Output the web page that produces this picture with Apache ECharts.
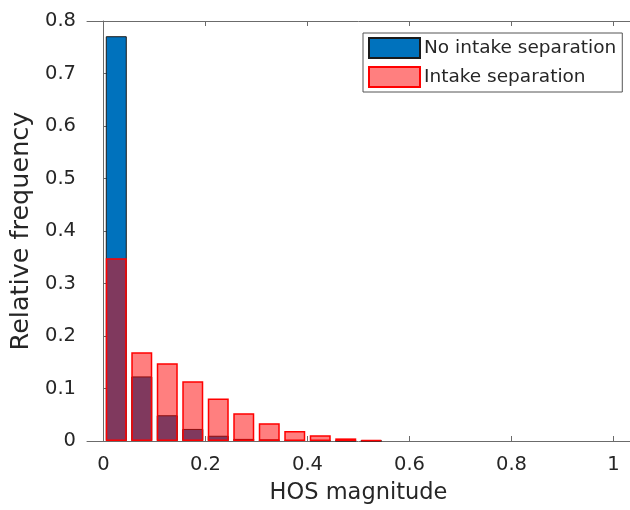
<!DOCTYPE html>
<html>
<head>
<meta charset="utf-8">
<script src="https://cdn.jsdelivr.net/npm/echarts@6/dist/echarts.min.js"></script>
<style>
  html, body { margin: 0; padding: 0; background: #fff; }
  #main { width: 630px; height: 510px; }
</style>
</head>
<body>
<div id="main"></div>
<script>
// bin centres (bin width 0.05)
var binCenters = [0.025, 0.075, 0.125, 0.175, 0.225, 0.275, 0.325, 0.375, 0.425, 0.475, 0.525];
// relative frequency, no intake separation
var noSeparation = [0.771, 0.123, 0.049, 0.023, 0.010, 0.004, 0.003, 0.002, 0.001, 0.0005, 0.0003];
// relative frequency, intake separation
var withSeparation = [0.348, 0.169, 0.148, 0.114, 0.081, 0.053, 0.034, 0.019, 0.011, 0.005, 0.002];
var xTicks = [0, 0.2, 0.4, 0.6, 0.8, 1];

var font = "'DejaVu Sans', 'Liberation Sans', Arial, sans-serif";
var axisColor = '#6b6b6b';
var textColor = '#262626';

function pairs(xs, ys) {
  return xs.map(function (x, i) { return [x, ys[i]]; });
}

var chart = echarts.init(document.getElementById('main'));
var option = {
  animation: false,
  textStyle: { fontFamily: font },
  grid: { left: 87, right: -3, top: 21, bottom: 66 },
  legend: {
    orient: 'vertical',
    left: 363,
    top: 33,
    padding: [4, 6, 4, 5],
    itemGap: 7,
    itemWidth: 51,
    itemHeight: 20,
    icon: 'rect',
    borderColor: '#555',
    borderWidth: 1,
    backgroundColor: '#fff',
    textStyle: { fontSize: 18.5, color: textColor, fontFamily: font, padding: [0, 0, 0, -1] },
    data: ['No intake separation', 'Intake separation']
  },
  xAxis: [{
    type: 'value',
    min: -0.0324,
    max: 1.0324,
    name: 'HOS magnitude',
    nameLocation: 'middle',
    nameGap: 41,
    nameTextStyle: { fontSize: 22.5, color: textColor, fontFamily: font },
    axisLine: { show: true, onZero: false, lineStyle: { color: axisColor, width: 1 } },
    axisTick: { show: true, inside: true, length: 5, customValues: xTicks, lineStyle: { color: axisColor } },
    axisLabel: { fontSize: 19.5, color: textColor, margin: 14, customValues: xTicks, fontFamily: font },
    splitLine: { show: false }
  }, {
    type: 'value',
    position: 'top',
    min: -0.0324,
    max: 1.0324,
    axisLine: { show: true, onZero: false, lineStyle: { color: axisColor, width: 1 } },
    axisTick: { show: true, inside: true, length: 5, customValues: xTicks, lineStyle: { color: axisColor } },
    axisLabel: { show: false },
    splitLine: { show: false }
  }],
  yAxis: {
    type: 'value',
    min: 0,
    max: 0.8,
    interval: 0.1,
    name: 'Relative frequency',
    nameLocation: 'middle',
    nameGap: 48,
    nameTextStyle: { fontSize: 25.5, color: textColor, fontFamily: font },
    axisLine: { show: true, lineStyle: { color: axisColor, width: 1 } },
    axisTick: { show: true, inside: true, length: 5, lineStyle: { color: axisColor } },
    axisLabel: { fontSize: 19.5, color: textColor, margin: 11, fontFamily: font },
    splitLine: { show: false }
  },
  series: [{
    name: 'No intake separation',
    type: 'bar',
    barWidth: 21,
    barGap: '-100%',
    itemStyle: { color: '#0072BD', borderColor: '#1a1a1a', borderWidth: 1 },
    data: pairs(binCenters, noSeparation)
  }, {
    name: 'Intake separation',
    type: 'bar',
    barWidth: 21,
    barGap: '-100%',
    itemStyle: { color: 'rgba(255,0,0,0.5)', borderColor: '#ff0000', borderWidth: 1.5 },
    data: pairs(binCenters, withSeparation)
  }]
};
chart.setOption(option);
</script>
</body>
</html>
